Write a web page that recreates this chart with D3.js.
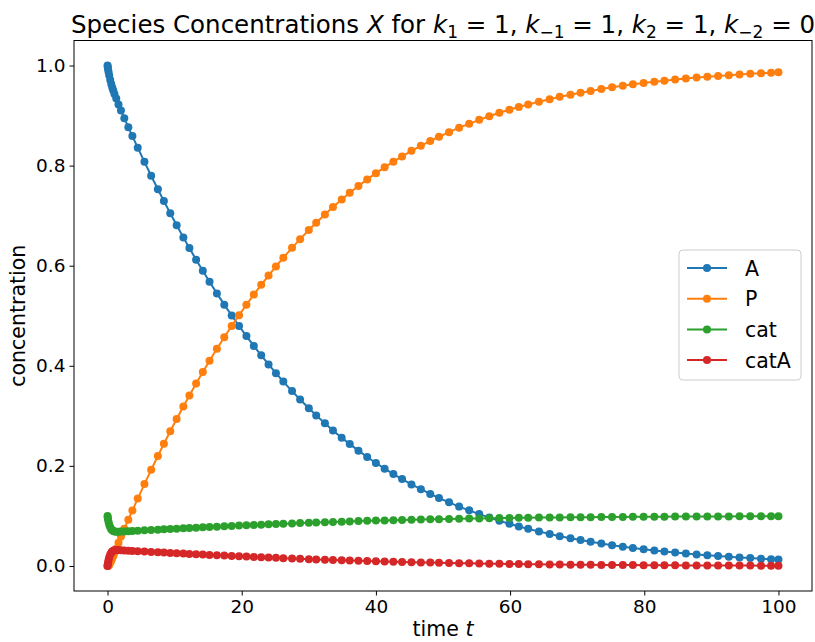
<!DOCTYPE html>
<html><head><meta charset="utf-8">
<script src="https://cdn.jsdelivr.net/npm/d3@7"></script>
<style>body{margin:0;background:#fff}svg{display:block}</style>
</head><body>
<svg id="chart" width="815" height="642"></svg>
<script>
const timeT = [0,0.03,0.08,0.15,0.25,0.4,0.55,0.7,0.85,1.03,1.3,1.63,2.0,2.5,3.1,3.7,4.5,5.5,6.5,7.5,8.4,9.35,10.3,11.3,12.2,13.2,14.2,15.2,16.3,17.4,18.5,19.6,20.7,21.8,22.9,24.0,25.1,26.2,27.5,28.7,30.0,31.1,32.4,33.6,34.9,36.1,37.4,38.7,40.0,41.3,42.6,43.9,45.3,46.7,48.1,49.4,50.9,52.4,53.9,55.4,56.9,58.4,59.9,61.3,62.7,64.3,65.9,67.4,69.0,70.5,72.0,73.6,75.2,76.8,78.3,79.9,81.5,83.0,84.6,86.2,87.8,89.4,91.0,92.6,94.2,95.8,97.4,98.9,100];
const seriesA = [1.0,0.997,0.9925,0.987,0.980,0.971,0.963,0.956,0.950,0.943,0.934,0.922,0.910,0.8948,0.8769,0.8591,0.8359,0.8075,0.7798,0.7528,0.7291,0.7047,0.6809,0.6566,0.6352,0.6121,0.5897,0.5679,0.5447,0.5222,0.5005,0.4795,0.4593,0.4397,0.4209,0.4028,0.3853,0.3685,0.3494,0.3326,0.3151,0.3009,0.2850,0.2709,0.2563,0.2435,0.2304,0.2177,0.2058,0.1945,0.1837,0.1736,0.1630,0.1534,0.1440,0.1359,0.1272,0.1186,0.1112,0.1037,0.0967,0.0902,0.0844,0.0790,0.0742,0.0689,0.0641,0.0596,0.0556,0.0517,0.0483,0.0449,0.0416,0.0385,0.0358,0.0333,0.0309,0.0288,0.0267,0.0247,0.0229,0.0213,0.0197,0.0183,0.0170,0.0157,0.0146,0.0136,0.0129];
const seriesP = [0,0.0001,0.0004,0.001,0.0025,0.0062,0.0105,0.0153,0.0198,0.0258,0.0342,0.0462,0.0587,0.0743,0.0926,0.1108,0.1346,0.1637,0.1921,0.2198,0.2442,0.2692,0.2937,0.3187,0.3407,0.3645,0.3875,0.4100,0.4339,0.4571,0.4795,0.5012,0.5220,0.5423,0.5617,0.5804,0.5985,0.6159,0.6357,0.6531,0.6713,0.6860,0.7025,0.7172,0.7323,0.7456,0.7593,0.7725,0.7849,0.7966,0.8079,0.8184,0.8295,0.8395,0.8493,0.8577,0.8668,0.8758,0.8835,0.8914,0.8987,0.9055,0.9115,0.9172,0.9222,0.9278,0.9328,0.9375,0.9417,0.9458,0.9493,0.9529,0.9564,0.9596,0.9624,0.9651,0.9676,0.9698,0.9720,0.9741,0.9760,0.9776,0.9793,0.9808,0.9822,0.9835,0.9847,0.9857,0.9865];
const seriesCatA = [0,0.0029,0.0071,0.0120,0.0175,0.0228,0.0265,0.0287,0.0302,0.0312,0.0318,0.0318,0.0313,0.0309,0.0305,0.0301,0.0295,0.0288,0.0281,0.0274,0.0267,0.0261,0.0254,0.0247,0.0241,0.0234,0.0228,0.0221,0.0214,0.0207,0.0200,0.0193,0.0187,0.0180,0.0174,0.0168,0.0162,0.0156,0.0149,0.0143,0.0136,0.0131,0.0125,0.0119,0.0114,0.0109,0.0103,0.0098,0.0093,0.0089,0.0084,0.0080,0.0075,0.0071,0.0067,0.0064,0.0060,0.0056,0.0053,0.0049,0.0046,0.0043,0.0041,0.0038,0.0036,0.0033,0.0031,0.0029,0.0027,0.0025,0.0024,0.0022,0.0020,0.0019,0.0018,0.0016,0.0015,0.0014,0.0013,0.0012,0.0011,0.0011,0.0010,0.0009,0.0008,0.0008,0.0007,0.0007,0.0006];
const seriesCat = [0.1,0.0971,0.0929,0.0880,0.0825,0.0772,0.0735,0.0713,0.0698,0.0688,0.0682,0.0682,0.0687,0.0691,0.0695,0.0699,0.0705,0.0712,0.0719,0.0726,0.0733,0.0739,0.0746,0.0753,0.0759,0.0766,0.0772,0.0779,0.0786,0.0793,0.0800,0.0807,0.0813,0.0820,0.0826,0.0832,0.0838,0.0844,0.0851,0.0857,0.0864,0.0869,0.0875,0.0881,0.0886,0.0891,0.0897,0.0902,0.0907,0.0911,0.0916,0.0920,0.0925,0.0929,0.0933,0.0936,0.0940,0.0944,0.0947,0.0951,0.0954,0.0957,0.0959,0.0962,0.0964,0.0967,0.0969,0.0971,0.0973,0.0975,0.0976,0.0978,0.0980,0.0981,0.0982,0.0984,0.0985,0.0986,0.0987,0.0988,0.0989,0.0989,0.0990,0.0991,0.0992,0.0992,0.0993,0.0993,0.0994];
const seriesNames = ["A","P","cat","catA"];
const seriesColors = ["#1f77b4","#ff7f0e","#2ca02c","#d62728"];
const xTicks = [0,20,40,60,80,100];
const yTicks = [0.0,0.2,0.4,0.6,0.8,1.0];

const svg = d3.select("#chart");
const m = {left:74, right:812, top:40.5, bottom:591};
const x = d3.scaleLinear().domain([-5,105]).range([m.left,m.right]);
const y = d3.scaleLinear().domain([-0.05,1.05]).range([m.bottom,m.top]);
const font = "'DejaVu Sans', sans-serif";

const allSeries = [seriesA, seriesP, seriesCat, seriesCatA];
const line = d3.line().x(d=>x(d[0])).y(d=>y(d[1]));
const g = svg.append("g");
allSeries.forEach((vals,i)=>{
  const pts = timeT.map((t,j)=>[t,vals[j]]);
  g.append("path").attr("d",line(pts)).attr("fill","none").attr("stroke",seriesColors[i]).attr("stroke-width",2);
  g.selectAll(null).data(pts).enter().append("circle")
    .attr("cx",d=>x(d[0])).attr("cy",d=>y(d[1])).attr("r",4).attr("fill",seriesColors[i]);
});

// frame
svg.append("rect").attr("x",m.left).attr("y",m.top).attr("width",m.right-m.left).attr("height",m.bottom-m.top)
  .attr("fill","none").attr("stroke","#000").attr("stroke-width",1);

const xAxis = svg.append("g").attr("transform",`translate(0,${m.bottom})`)
  .call(d3.axisBottom(x).tickValues(xTicks).tickSize(4.5).tickPadding(4).tickFormat(d3.format("d")));
const yAxis = svg.append("g").attr("transform",`translate(${m.left},0)`)
  .call(d3.axisLeft(y).tickValues(yTicks).tickSize(4.5).tickPadding(4).tickFormat(d3.format(".1f")));
[xAxis,yAxis].forEach(a=>{
  a.select(".domain").remove();
  a.selectAll("text").attr("font-family",font).attr("font-size",18.5).attr("fill","#000");
  a.selectAll("line").attr("stroke","#000");
});

// title
const title = svg.append("text").attr("x",(m.left+m.right)/2).attr("y",33).attr("text-anchor","middle")
  .attr("font-family",font).attr("font-size",24.5).attr("fill","#000");
function add(t,opt={}){
  const s = title.append("tspan").text(t);
  if(opt.it) s.attr("font-style","italic");
  if(opt.sub){ s.attr("font-size",17).attr("dy",4.5); }
  if(opt.back) s.attr("dy",-4.5);
  return s;
}
add("Species Concentrations ");
add("X",{it:true});
add(" for ");
add("k",{it:true}); add("1",{sub:true}); add(" = 1, ",{back:true});
add("k",{it:true}); add("\u22121",{sub:true}); add(" = 1, ",{back:true});
add("k",{it:true}); add("2",{sub:true}); add(" = 1, ",{back:true});
add("k",{it:true}); add("\u22122",{sub:true}); add(" = 0",{back:true});

// axis labels
const xl = svg.append("text").attr("x",(m.left+m.right)/2).attr("y",636).attr("text-anchor","middle")
  .attr("font-family",font).attr("font-size",20.5).attr("fill","#000");
xl.append("tspan").text("time ");
xl.append("tspan").text("t").attr("font-style","italic");
svg.append("text").attr("transform",`translate(25,${(m.top+m.bottom)/2}) rotate(-90)`).attr("text-anchor","middle")
  .attr("font-family",font).attr("font-size",20.5).attr("fill","#000").text("concentration");

// legend
const lg = svg.append("g").attr("transform","translate(679,250)");
lg.append("rect").attr("width",122).attr("height",130).attr("rx",4).attr("fill","#fff").attr("fill-opacity",0.8)
  .attr("stroke","#ccc").attr("stroke-width",1);
seriesNames.forEach((n,i)=>{
  const yy = 18 + i*30.7;
  lg.append("line").attr("x1",8).attr("x2",48).attr("y1",yy).attr("y2",yy).attr("stroke",seriesColors[i]).attr("stroke-width",2);
  lg.append("circle").attr("cx",28).attr("cy",yy).attr("r",4).attr("fill",seriesColors[i]);
  lg.append("text").attr("x",66).attr("y",yy+7.5).attr("font-family",font).attr("font-size",20.5).attr("fill","#000").text(n);
});
</script>
</body></html>
